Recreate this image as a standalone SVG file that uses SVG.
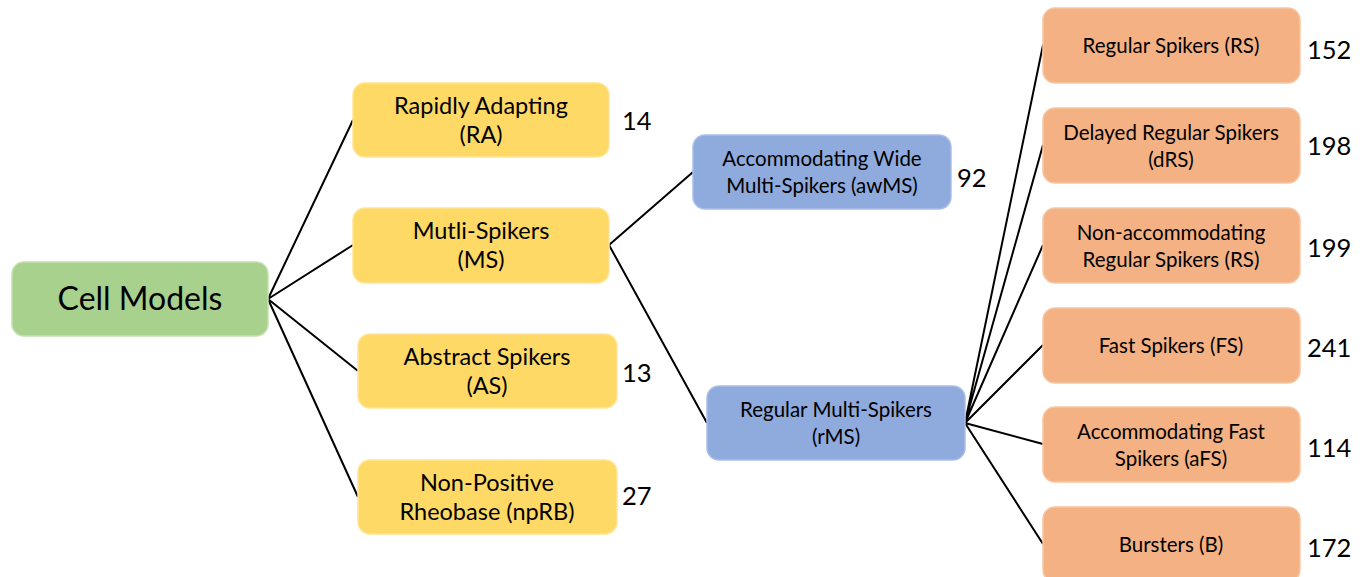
<svg xmlns="http://www.w3.org/2000/svg" width="1371" height="577" viewBox="0 0 1371 577">
<style>
.box{stroke-width:1.5}
.g{fill:#a9d18e;stroke:#c3e0ae}
.y{fill:#ffd966;stroke:#ffe594}
.b{fill:#8faadc;stroke:#a9bfe6}
.o{fill:#f4b183;stroke:#f7c6a3}
text{font-family:Lato,"Open Sans","Liberation Sans",sans-serif;fill:#000;text-anchor:middle}
.t1{font-size:32px}
.t2{font-size:23.5px}
.t3{font-size:20.5px}
.n{font-size:25.5px;text-anchor:start;dominant-baseline:central}
.c{stroke:#000;stroke-width:2;fill:none}
</style>
<g id="connectors">
<path class="c" d="M268,299L353,120M268,299L353,245M268,299L358,371M268,299L358,497"/>
<path class="c" d="M609,245L693,172M609,245L707,423"/>
<path class="c" d="M965,423L1043,45M965,423L1043,145M965,423L1043,245M965,423L1043,345M965,423L1043,444M965,423L1043,544"/>
</g>
<g id="cell-models"><rect class="box g" x="12" y="262" width="256" height="74" rx="12"/><text class="t1" x="140" y="310">Cell Models</text></g>
<g id="ra"><rect class="box y" x="353" y="83" width="256" height="74" rx="12"/><text class="t2" x="481" y="114">Rapidly Adapting</text><text class="t2" x="481" y="143">(RA)</text><text class="n" x="622" y="120">14</text></g>
<g id="ms"><rect class="box y" x="353" y="208" width="256" height="75" rx="12"/><text class="t2" x="481" y="239">Mutli-Spikers</text><text class="t2" x="481" y="268">(MS)</text></g>
<g id="as"><rect class="box y" x="358" y="334" width="259" height="74" rx="12"/><text class="t2" x="487" y="365">Abstract Spikers</text><text class="t2" x="487" y="394">(AS)</text><text class="n" x="622" y="372">13</text></g>
<g id="nprb"><rect class="box y" x="358" y="460" width="259" height="74" rx="12"/><text class="t2" x="487" y="491">Non-Positive</text><text class="t2" x="487" y="520">Rheobase (npRB)</text><text class="n" x="622" y="495">27</text></g>
<g id="awms"><rect class="box b" x="693" y="135" width="258" height="74" rx="12"/><text class="t3" x="822" y="166">Accommodating Wide</text><text class="t3" x="822" y="193">Multi-Spikers (awMS)</text><text class="n" x="957" y="177">92</text></g>
<g id="rms"><rect class="box b" x="707" y="386" width="258" height="74" rx="12"/><text class="t3" x="836" y="417">Regular Multi-Spikers</text><text class="t3" x="836" y="444">(rMS)</text></g>
<g id="rs"><rect class="box o" x="1043" y="8" width="257" height="75" rx="12"/><text class="t3" x="1171" y="53">Regular Spikers (RS)</text><text class="n" x="1307" y="49">152</text></g>
<g id="drs"><rect class="box o" x="1043" y="108" width="257" height="75" rx="12"/><text class="t3" x="1171" y="140">Delayed Regular Spikers</text><text class="t3" x="1171" y="167">(dRS)</text><text class="n" x="1307" y="145">198</text></g>
<g id="nrs"><rect class="box o" x="1043" y="208" width="257" height="75" rx="12"/><text class="t3" x="1171" y="240">Non-accommodating</text><text class="t3" x="1171" y="267">Regular Spikers (RS)</text><text class="n" x="1307" y="247">199</text></g>
<g id="fs"><rect class="box o" x="1043" y="308" width="257" height="75" rx="12"/><text class="t3" x="1171" y="353">Fast Spikers (FS)</text><text class="n" x="1307" y="347">241</text></g>
<g id="afs"><rect class="box o" x="1043" y="407" width="257" height="75" rx="12"/><text class="t3" x="1171" y="439">Accommodating Fast</text><text class="t3" x="1171" y="466">Spikers (aFS)</text><text class="n" x="1307" y="447">114</text></g>
<g id="b"><rect class="box o" x="1043" y="507" width="257" height="75" rx="12"/><text class="t3" x="1171" y="552">Bursters (B)</text><text class="n" x="1307" y="547">172</text></g>
</svg>
